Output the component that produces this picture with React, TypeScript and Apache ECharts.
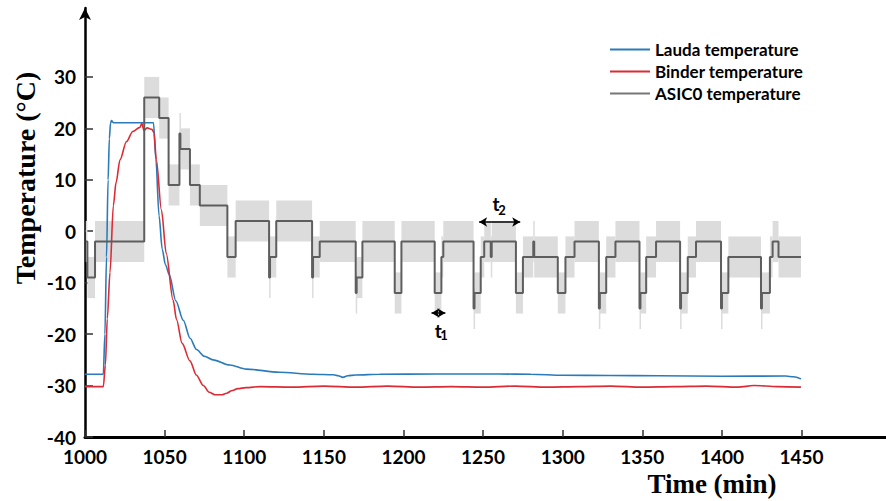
import React, { useEffect, useRef } from "react";
import * as echarts from "echarts";

// ---- data ----
const xTicks = [1000, 1050, 1100, 1150, 1200, 1250, 1300, 1350, 1400, 1450];
const yTicks = [-40, -30, -20, -10, 0, 10, 20, 30];
const seriesNames = ["Lauda temperature", "Binder temperature", "ASIC0 temperature"];

// Lauda (chiller) temperature [min, °C]
const laudaData: number[][] = [
  [1000, -27.8], [1011.5, -27.8], [1012.5, -20], [1013.5, -5], [1014.5, 10], [1015.3, 18],
  [1016, 21], [1016.6, 21.5], [1018, 21.1], [1030, 21.1], [1043, 21.1], [1044.5, 14],
  [1046.5, 3], [1048.5, -3.5], [1050.5, -6.5], [1053, -8.5], [1057, -13.5], [1061.7, -17.3],
  [1066, -20.8], [1070, -23], [1075, -24.3], [1080.4, -25], [1090.9, -26], [1101.3, -26.8],
  [1122, -27.4], [1143, -27.8], [1156, -27.9], [1159, -28.1], [1162, -28.4], [1165, -28.1],
  [1170, -27.95], [1185, -27.8], [1220, -27.75], [1260, -27.75], [1280, -27.8], [1300, -28.0],
  [1330, -28.05], [1360, -28.1], [1400, -28.2], [1440, -28.15], [1445, -28.3], [1449.6, -28.7],
];

// Binder (climate chamber) temperature [min, °C]
const binderData: number[][] = [
  [1000, -30.2], [1011.5, -30.2], [1012.8, -26], [1014, -17], [1015.7, -8], [1017.8, 5],
  [1019.5, 9.5], [1022, 13.9], [1026, 17.4], [1030, 19.4], [1034.5, 20.2], [1035.7, 21],
  [1037, 19.6], [1039, 20.1], [1042, 19.8], [1043.3, 19.2], [1044.8, 13.9], [1048, 4.1],
  [1051, -4.3], [1055.3, -13.4], [1057.5, -17.2], [1061, -21.8], [1065.9, -25.2], [1070, -28],
  [1074.3, -30], [1078, -31.3], [1081.6, -31.8], [1086, -31.8], [1089, -31.5], [1092, -31],
  [1096, -30.6], [1101, -30.4], [1110, -30.2], [1130, -30.3], [1150, -30.1], [1170, -30.3],
  [1190, -30.1], [1210, -30.3], [1230, -30.2], [1250, -30.3], [1270, -30.1], [1290, -30.3],
  [1310, -30.2], [1330, -30.1], [1350, -30.3], [1370, -30.2], [1390, -30.1], [1410, -30.3],
  [1420, -30.0], [1435, -30.2], [1449.6, -30.3],
];

// ASIC0 temperature: level starts [min] and levels [°C]
const asicStart = [
  1000.5, 1001.5, 1006.3, 1037.2, 1046.6, 1052.5, 1059.3, 1059.9, 1065.9, 1072.1,
  1089.4, 1094.6, 1115.6, 1116.2, 1120.1, 1142.6, 1143.2, 1147.4, 1170.0, 1170.6,
  1174.2, 1194.5, 1198.7, 1219.6, 1223.8, 1225.0, 1244.0, 1244.6, 1248.5, 1250.7,
  1254.8, 1255.4, 1270.6, 1275.0, 1281.5, 1282.1, 1296.9, 1301.7, 1307.4, 1322.7,
  1323.3, 1327.3, 1333.1, 1348.2, 1348.8, 1352.4, 1358.6, 1373.7, 1374.3, 1378.5,
  1383.7, 1399.4, 1400.0, 1404.0, 1424.5, 1425.1, 1430.1, 1431.8, 1435.5,
];
const asicLevel = [
  -2, -9, -2, 26, 22, 9, 19, 16, 9, 5,
  -5, 2, -9, -5, 2, -9, -5, -2, -12, -9,
  -2, -12, -2, -12, -5, -2, -15, -12, -5, -2,
  -5, -2, -12, -5, -2, -5, -12, -5, -2, -15,
  -12, -5, -2, -15, -12, -5, -2, -15, -12, -5,
  -2, -15, -12, -5, -15, -12, -5, -2, -5,
];
const asicEnd = 1449.6;
const asicUncertainty = 4; // ± °C band

// t1 / t2 annotations [min, °C]
const t2Arrow = [[1247.5, 1.8], [1273.3, 1.8]];
const t1Arrow = [[1217.6, -15.9], [1226.3, -15.9]];
const t2Label = [[1258.1, 5.3], [1261.8, 4.2]];
const t1Label = [[1221.9, -19.2], [1225.5, -20.1]];

const LAUDA_COLOR = "#2b7bba";
const BINDER_COLOR = "#dc2b35";
const ASIC_COLOR = "#5e5e5e";
const SANS = "Lato";
const SERIF = "Liberation Serif";

export default function App() {
  const ref = useRef<HTMLDivElement>(null);

  useEffect(() => {
    if (!ref.current) return;
    const chart = echarts.init(ref.current, null, { renderer: "svg" });

    const segs = asicStart.map((s, i) => [
      s,
      i + 1 < asicStart.length ? asicStart[i + 1] : asicEnd,
      asicLevel[i],
    ]);
    const asicLine: number[][] = [];
    segs.forEach((sg) => {
      asicLine.push([sg[0], sg[2]]);
      asicLine.push([sg[1], sg[2]]);
    });

    const labelPt = (c: number[], text: string, size: number) => ({
      coord: c,
      symbol: "circle",
      symbolSize: 0,
      itemStyle: { color: "transparent" },
      label: {
        show: true,
        position: "inside",
        formatter: text,
        color: "#000",
        fontSize: size,
        fontWeight: "bold",
        fontFamily: SANS,
      },
    });

    chart.setOption({
      animation: false,
      grid: { left: 85, right: 0, top: 8, bottom: 64, containLabel: false },
      legend: {
        data: seriesNames.map((n) => ({ name: n, icon: "rect" })),
        orient: "vertical",
        left: 605,
        top: 36,
        itemWidth: 40,
        itemHeight: 2,
        itemGap: 5,
        textStyle: {
          fontFamily: SANS,
          fontWeight: "bold",
          fontSize: 17,
          color: "#000",
        },
        selectedMode: false,
      },
      xAxis: {
        type: "value",
        min: 1000,
        max: 1503,
        interval: 50,
        axisLine: { show: true, onZero: false, lineStyle: { color: "#000", width: 3 } },
        axisTick: {
          show: true,
          inside: true,
          length: 7,
          customValues: xTicks,
          lineStyle: { color: "#333", width: 1.5 },
        },
        axisLabel: {
          show: true,
          customValues: xTicks,
          margin: 10,
          fontFamily: SANS,
          fontWeight: "bold",
          fontSize: 19,
          color: "#000",
          formatter: (v: number) => (xTicks.indexOf(v) >= 0 ? String(v) : ""),
        },
        splitLine: { show: false },
      },
      yAxis: {
        type: "value",
        min: -40,
        max: 43.4,
        interval: 10,
        axisLine: {
          show: true,
          onZero: false,
          symbol: ["none", "arrow"],
          symbolSize: [9, 12],
          lineStyle: { color: "#000", width: 2.5 },
        },
        axisTick: {
          show: true,
          inside: true,
          length: 8,
          customValues: yTicks,
          lineStyle: { color: "#333", width: 1.5 },
        },
        axisLabel: {
          show: true,
          customValues: yTicks,
          margin: 9,
          fontFamily: SANS,
          fontWeight: "bold",
          fontSize: 19,
          color: "#000",
          formatter: (v: number) => (yTicks.indexOf(v) >= 0 ? String(v) : ""),
        },
        splitLine: { show: false },
      },
      graphic: [
        {
          type: "text",
          x: 25,
          y: 178,
          rotation: Math.PI / 2,
          style: {
            text: "Temperature (°C)",
            fontFamily: SERIF,
            fontWeight: "bold",
            fontSize: 28,
            fill: "#000",
            textAlign: "center",
            textVerticalAlign: "middle",
          },
        },
        {
          type: "text",
          x: 712,
          y: 484,
          style: {
            text: "Time (min)",
            fontFamily: SERIF,
            fontWeight: "bold",
            fontSize: 27,
            fill: "#000",
            textAlign: "center",
            textVerticalAlign: "middle",
          },
        },
      ],
      series: [
        {
          type: "custom",
          name: "ASIC0 band",
          data: segs,
          encode: { x: [0, 1], y: 2 },
          silent: true,
          z: 1,
          renderItem: (_params: any, api: any) => {
            const s = api.value(0);
            const e = api.value(1);
            const v = api.value(2);
            const a = api.coord([s, v + asicUncertainty]);
            const b = api.coord([e, v - asicUncertainty]);
            return {
              type: "rect",
              shape: {
                x: a[0],
                y: a[1],
                width: Math.max(b[0] - a[0], 1.5),
                height: b[1] - a[1],
              },
              style: { fill: "#dcdcdc" },
            };
          },
        },
        {
          type: "line",
          name: seriesNames[0],
          data: laudaData,
          symbol: "none",
          smooth: 0.3,
          smoothMonotone: "x",
          z: 3,
          lineStyle: { color: LAUDA_COLOR, width: 1.6 },
          itemStyle: { color: LAUDA_COLOR },
        },
        {
          type: "line",
          name: seriesNames[1],
          data: binderData,
          symbol: "none",
          smooth: 0.3,
          smoothMonotone: "x",
          z: 3,
          lineStyle: { color: BINDER_COLOR, width: 1.6 },
          itemStyle: { color: BINDER_COLOR },
        },
        {
          type: "line",
          name: seriesNames[2],
          data: asicLine,
          symbol: "none",
          z: 4,
          lineStyle: { color: ASIC_COLOR, width: 2 },
          itemStyle: { color: "#777" },
          markLine: {
            silent: true,
            symbol: ["arrow", "arrow"],
            symbolSize: [7, 8],
            lineStyle: { color: "#000", width: 1.5, type: "solid" },
            label: { show: false },
            emphasis: { disabled: true },
            data: [
              [{ coord: t2Arrow[0] }, { coord: t2Arrow[1] }],
              [{ coord: t1Arrow[0] }, { coord: t1Arrow[1] }],
            ],
          },
          markPoint: {
            silent: true,
            data: [
              labelPt(t2Label[0], "t", 19),
              labelPt(t2Label[1], "2", 13),
              labelPt(t1Label[0], "t", 19),
              labelPt(t1Label[1], "1", 13),
            ],
          },
        },
      ],
    });

    return () => chart.dispose();
  }, []);

  return (
    <div
      ref={ref}
      style={{ position: "fixed", left: 0, top: 0, width: 886, height: 501, background: "#fff" }}
    />
  );
}
